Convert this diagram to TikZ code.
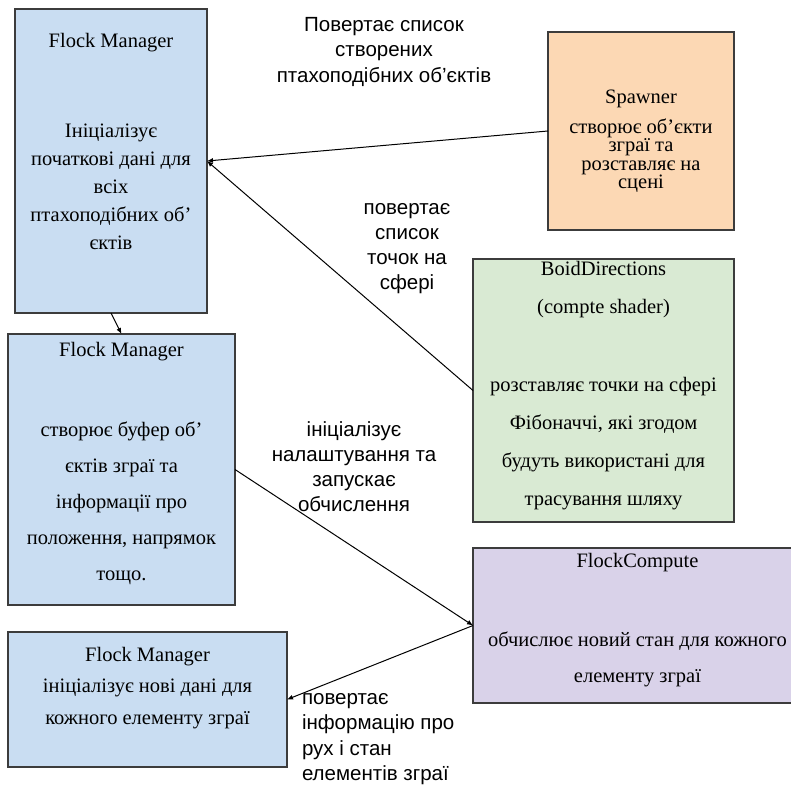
\documentclass[tikz,border=0pt]{standalone}
\usepackage{fontspec}
\setmainfont{Liberation Serif}
\setsansfont{Liberation Sans}
\usetikzlibrary{positioning,arrows.meta}
\definecolor{fmblue}{HTML}{C9DDF2}
\definecolor{spawnorange}{HTML}{FCD8B4}
\definecolor{boidgreen}{HTML}{D9EAD3}
\definecolor{computeviolet}{HTML}{D9D2E9}
\definecolor{rim}{HTML}{3C3C3C}
\begin{document}
\begin{tikzpicture}[x=1pt,y=-1pt,inner sep=0pt,outer sep=0pt,line width=1pt,>={Latex[length=6pt,width=5pt]},
fmblock/.style={draw=rim,rectangle,line width=1.3pt,anchor=north west},
boxtext/.style={align=center,font={\fontsize{20.5}{#1}\selectfont},execute at begin node=\rule{0pt}{15pt}},
lbl/.style={align=center,font={\sffamily\fontsize{20.5}{#1}\selectfont},execute at begin node=\rule{0pt}{15pt}}]
\useasboundingbox (0,0) rectangle (790,791);
% boxes
\draw (15,9) node[fmblock,fill=fmblue,minimum width=192pt,minimum height=304pt] (fm1) {};
\draw (8,334) node[fmblock,fill=fmblue,minimum width=227pt,minimum height=271pt] (fm2) {};
\draw (8,632) node[fmblock,fill=fmblue,minimum width=279pt,minimum height=135pt] (fm3) {};
\draw (548,32) node[fmblock,fill=spawnorange,minimum width=186pt,minimum height=198pt] (spawner) {};
\draw (473,259) node[fmblock,fill=boidgreen,minimum width=261pt,minimum height=263pt] (boiddir) {};
\draw (473,548) node[fmblock,fill=computeviolet,minimum width=329pt,minimum height=155pt] (compute) {};
% box texts
\node[boxtext=28pt,below=24pt of fm1.north] (fm1txt) {Flock Manager\\[62pt]Ініціалізує\\початкові дані для\\всіх\\птахоподібних об’\\єктів};
\node[boxtext=36pt,below=8pt of fm2.north] (fm2txt) {Flock Manager\\[44pt]створює буфер об’\\єктів зграї та\\інформації про\\положення, напрямок\\тощо.};
\node[boxtext=31.5pt,below=15pt of fm3.north] (fm3txt) {Flock Manager\\ініціалізує нові дані для\\кожного елементу зграї};
\node[boxtext=18.5pt,below=58pt of spawner.north] (spawnertxt) {Spawner\\[9.5pt]створює об’єкти\\зграї та\\розставляє на\\сцені};
\node[boxtext=38pt,below=2pt of boiddir.north] (boiddirtxt) {BoidDirections\\(compte shader)\\[40pt]розставляє точки на сфері\\Фібоначчі, які згодом\\будуть використані для\\трасування шляху};
\node[boxtext=36pt,below=5pt of compute.north] (computetxt) {FlockCompute\\[43pt]обчислює новий стан для кожного\\елементу зграї};
% connector labels
\node[lbl=25.5pt,anchor=north] (retobj) at (384,17) {Повертає список\\створених\\птахоподібних об’єктів};
\node[lbl=25pt,anchor=north] (retpts) at (407,203) {повертає\\список\\точок на\\сфері};
\node[lbl=25pt,anchor=north] (initrun) at (354,422) {ініціалізує\\налаштування та\\запускає\\обчислення};
\node[lbl=25.5pt,align=left,anchor=north west] (retstate) at (302,693) {повертає\\інформацію про\\рух і стан\\елементів зграї};
% connectors
\draw[->] (spawner.west) -- (fm1.east);
\draw[->] (boiddir.west) -- (fm1.east);
\draw[->] (fm1.south) -- (fm2.north);
\draw[->] (fm2.east) -- (compute.west);
\draw[->] (compute.west) -- (fm3.east);
\end{tikzpicture}
\end{document}
